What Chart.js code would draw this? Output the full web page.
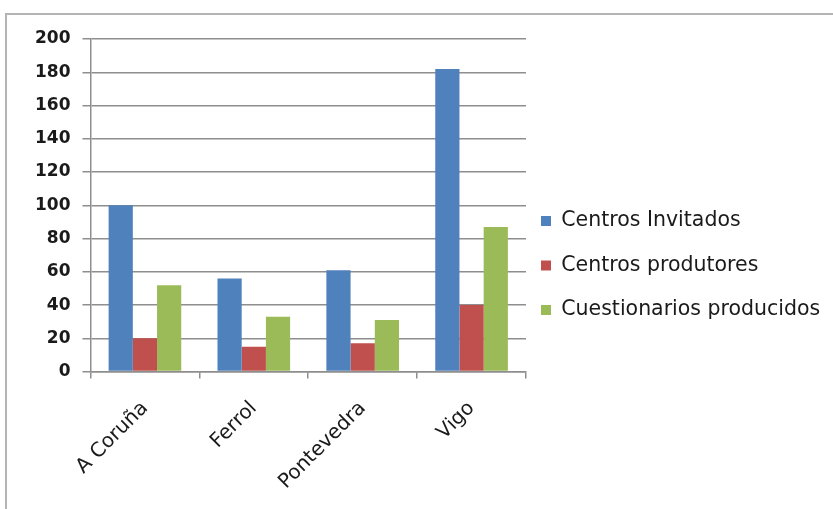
<!DOCTYPE html>
<html>
<head>
<meta charset="utf-8">
<script src="https://cdn.jsdelivr.net/npm/chart.js@4.4.1/dist/chart.umd.min.js"></script>
<style>
  html, body { margin: 0; padding: 0; background: #ffffff; overflow: hidden; }
  #frame
  {
    position: absolute;
    left: 5px;
    top: 13px;
    width: 840px;
    height: 510px;
    border: 2px solid #b4b4b4;
    box-sizing: border-box;
  }
  #wrap
  {
    position: absolute;
    left: 7px;
    top: 15px;
    width: 826px;
    height: 498px;
  }
</style>
</head>
<body>
<div id="frame"></div>
<div id="wrap"><canvas id="id-centros-chart"></canvas></div>
<script>
// Centros e cuestionarios por zona
const city_labels = ['A Coruña', 'Ferrol', 'Pontevedra', 'Vigo'];
const centros_invitados = [100, 56, 61, 182];
const centros_produtores = [20, 15, 17, 40];
const cuestionarios_producidos = [52, 33, 31, 87];
const y_ticks = [0, 20, 40, 60, 80, 100, 120, 140, 160, 180, 200];

const FONT_FAMILY = "'DejaVu Sans', sans-serif";
const GRID_COLOR = '#8e8e8e';
const TEXT_COLOR = '#1a1a1a';

// pulls the legend a bit closer to the plot and slightly up
const legend_nudge =
{
  id: 'legend_nudge',
  afterLayout(chart)
  {
    const legend = chart.legend;
    if (!legend)
      return;
    legend.left -= 9;
    legend.right -= 9;
    legend.top -= 10;
    legend.bottom -= 10;
  }
};

function BuildChart()
{
  const data_centros =
  {
    labels: city_labels,
    datasets:
    [
      {
        label: 'Centros Invitados',
        data: centros_invitados,
        backgroundColor: '#4f81bd'
      },
      {
        label: 'Centros produtores',
        data: centros_produtores,
        backgroundColor: '#c0504d'
      },
      {
        label: 'Cuestionarios producidos',
        data: cuestionarios_producidos,
        backgroundColor: '#9bbb59'
      }
    ]
  };

  const config_centros =
  {
    type: 'bar',
    data: data_centros,
    plugins: [legend_nudge],
    options:
    {
      animation: false,
      responsive: true,
      maintainAspectRatio: false,
      layout: { padding: { left: 16, top: 24, right: 0, bottom: 1 } },
      datasets: { bar: { barPercentage: 1.0, categoryPercentage: 0.667 } },
      scales:
      {
        x:
        {
          grid: { drawOnChartArea: false, color: GRID_COLOR, lineWidth: 1.5, tickLength: 7 },
          border: { color: GRID_COLOR, width: 1.5 },
          ticks:
          {
            color: TEXT_COLOR,
            maxRotation: 45,
            minRotation: 45,
            padding: 18,
            font: { family: FONT_FAMILY, size: 20 }
          }
        },
        y:
        {
          min: 0,
          max: 200,
          afterBuildTicks: axis => { axis.ticks = y_ticks.map(v => ({ value: v })); },
          grid: { color: GRID_COLOR, lineWidth: 1.5, tickLength: 8 },
          border: { color: GRID_COLOR, width: 1.5 },
          ticks:
          {
            color: TEXT_COLOR,
            padding: 12,
            font: { family: FONT_FAMILY, size: 17, weight: 'bold' }
          }
        }
      },
      plugins:
      {
        tooltip: { enabled: false },
        legend:
        {
          position: 'right',
          align: 'center',
          maxWidth: 307,
          labels:
          {
            boxWidth: 10,
            boxHeight: 10,
            padding: 24,
            color: TEXT_COLOR,
            font: { family: FONT_FAMILY, size: 20.5 }
          }
        }
      }
    }
  };

  const ctx = document.getElementById('id-centros-chart').getContext('2d');
  new Chart(ctx, config_centros);
}

document.addEventListener("DOMContentLoaded", function()
{
  BuildChart();
});
</script>
</body>
</html>
